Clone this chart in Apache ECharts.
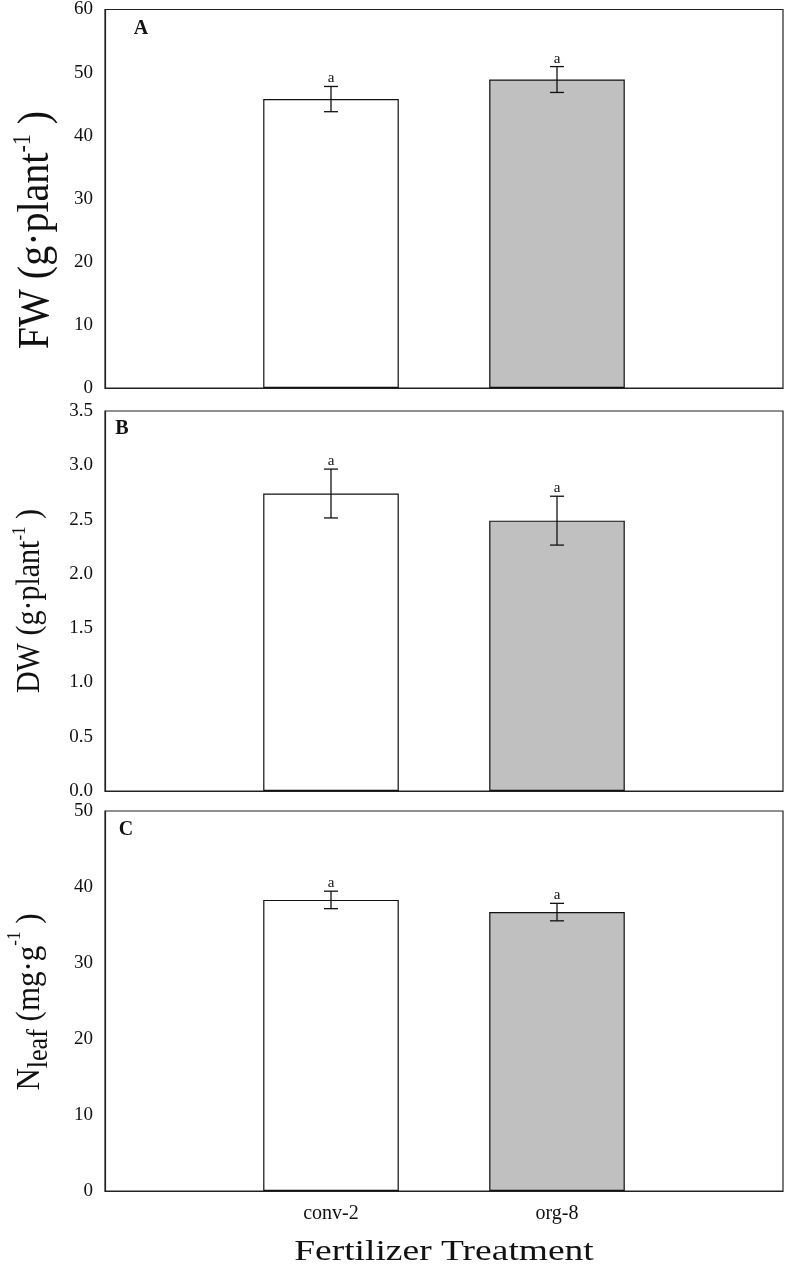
<!DOCTYPE html>
<html>
<head>
<meta charset="utf-8">
<script src="https://cdn.jsdelivr.net/npm/echarts@6/dist/echarts.min.js"></script>
<style>
    html, body { margin: 0; padding: 0; background: #fff; }
    #chart { width: 787px; height: 1267px; }
</style>
</head>
<body>
<div id="chart"></div>
<script>
// data
const categories = ['conv-2', 'org-8'];
const fwMean = [45.8, 48.9];
const fwErr = [2.0, 2.05];
const dwMean = [2.74, 2.49];
const dwErr = [0.225, 0.225];
const nMean = [38.3, 36.7];
const nErr = [1.15, 1.15];
const letters = ['a', 'a'];
const barColors = ['#ffffff', '#c0c0c0'];

const serif = "'Liberation Serif', 'DejaVu Serif', serif";
const axisData = [''].concat(categories, ['']);

// 3 stacked panels
const panels = [
    {top: 8, max: 60, interval: 10, mean: fwMean, err: fwErr, digits: 0},
    {top: 411, max: 3.5, interval: 0.5, mean: dwMean, err: dwErr, digits: 1},
    {top: 811, max: 50, interval: 10, mean: nMean, err: nErr, digits: 0}
];

function renderErr(params, api) {
    const x = api.value(0);
    const m = api.value(1);
    const e = api.value(2);
    const hi = api.coord([x, m + e]);
    const lo = api.coord([x, m - e]);
    const hw = 7;
    const ls = {stroke: '#111', lineWidth: 1.3};
    return {
        type: 'group',
        children: [
            {type: 'line', shape: {x1: hi[0], y1: hi[1], x2: lo[0], y2: lo[1]}, style: ls},
            {type: 'line', shape: {x1: hi[0] - hw, y1: hi[1], x2: hi[0] + hw, y2: hi[1]}, style: ls},
            {type: 'line', shape: {x1: lo[0] - hw, y1: lo[1], x2: lo[0] + hw, y2: lo[1]}, style: ls},
            {type: 'text', x: hi[0], y: hi[1] - 8, style: {
                text: letters[params.dataIndex], align: 'center', verticalAlign: 'middle',
                font: '15px ' + serif, fill: '#111'
            }}
        ]
    };
}

const grid = [], xAxis = [], yAxis = [], series = [];
panels.forEach(function (p, i) {
    grid.push({left: 105, top: p.top, width: 678, height: 380, show: true,
        borderColor: '#222', borderWidth: 1.2, backgroundColor: 'transparent'});
    xAxis.push({
        type: 'category', gridIndex: i, data: axisData, boundaryGap: false,
        axisLine: {lineStyle: {color: '#222', width: 1.2}},
        axisTick: {show: false},
        axisLabel: {show: i === 2, interval: 0, margin: 13, color: '#111', fontFamily: serif, fontSize: 20}
    });
    yAxis.push({
        type: 'value', gridIndex: i, min: 0, max: p.max, interval: p.interval,
        splitLine: {show: false},
        axisLine: {show: true, lineStyle: {color: '#222', width: 1.2}},
        axisTick: {inside: true, length: 6, lineStyle: {color: '#444'}},
        axisLabel: {
            margin: 12, color: '#111', fontFamily: serif, fontSize: 19,
            formatter: function (v) { return v.toFixed(p.digits); }
        }
    });
    const barData = ['-'].concat(p.mean.map(function (v, k) {
        return {value: v, itemStyle: {color: barColors[k]}};
    }), ['-']);
    series.push({
        type: 'bar', xAxisIndex: i, yAxisIndex: i, data: barData, barWidth: '60%',
        itemStyle: {borderColor: '#111', borderWidth: 1.2},
        silent: true
    });
    series.push({
        type: 'custom', xAxisIndex: i, yAxisIndex: i, renderItem: renderErr,
        encode: {x: 0, y: 1},
        data: p.mean.map(function (v, k) { return [k + 1, v, p.err[k]]; }),
        z: 5, silent: true
    });
});

function yTitle(x, y, text, rich) {
    return {type: 'text', x: x, y: y, rotation: Math.PI / 2, scaleY: 1.12,
        style: {text: text, rich: rich, align: 'center', verticalAlign: 'middle', fill: '#111'}};
}

const graphic = [
    {type: 'text', x: 141, y: 29, style: {text: 'A', font: 'bold 20px ' + serif, fill: '#111', align: 'center', verticalAlign: 'middle'}},
    {type: 'text', x: 122, y: 429, style: {text: 'B', font: 'bold 20px ' + serif, fill: '#111', align: 'center', verticalAlign: 'middle'}},
    {type: 'text', x: 126, y: 830, style: {text: 'C', font: 'bold 20px ' + serif, fill: '#111', align: 'center', verticalAlign: 'middle'}},
    yTitle(36, 230, '{m|FW (g·plant}{s|-1}{m| )}', {
        m: {fontFamily: serif, fontSize: 40, lineHeight: 44},
        s: {fontFamily: serif, fontSize: 22, verticalAlign: 'top', lineHeight: 44}
    }),
    yTitle(30, 601, '{m|DW (g·plant}{s|-1}{m| )}', {
        m: {fontFamily: serif, fontSize: 30, lineHeight: 34},
        s: {fontFamily: serif, fontSize: 17, verticalAlign: 'top', lineHeight: 34}
    }),
    yTitle(30, 1002, '{m|N}{b|leaf}{m| (mg·g}{s|-1}{m| )}', {
        m: {fontFamily: serif, fontSize: 31, lineHeight: 35},
        b: {fontFamily: serif, fontSize: 26, verticalAlign: 'bottom', lineHeight: 43},
        s: {fontFamily: serif, fontSize: 17, verticalAlign: 'top', lineHeight: 35}
    }),
    {type: 'text', x: 444, y: 1252, scaleX: 1.25, style: {
        text: 'Fertilizer Treatment', font: '30px ' + serif, fill: '#111', align: 'center', verticalAlign: 'middle'
    }}
];

const myChart = echarts.init(document.getElementById('chart'));
myChart.setOption({
    animation: false,
    backgroundColor: '#fff',
    grid: grid,
    xAxis: xAxis,
    yAxis: yAxis,
    series: series,
    graphic: graphic
});
</script>
</body>
</html>
